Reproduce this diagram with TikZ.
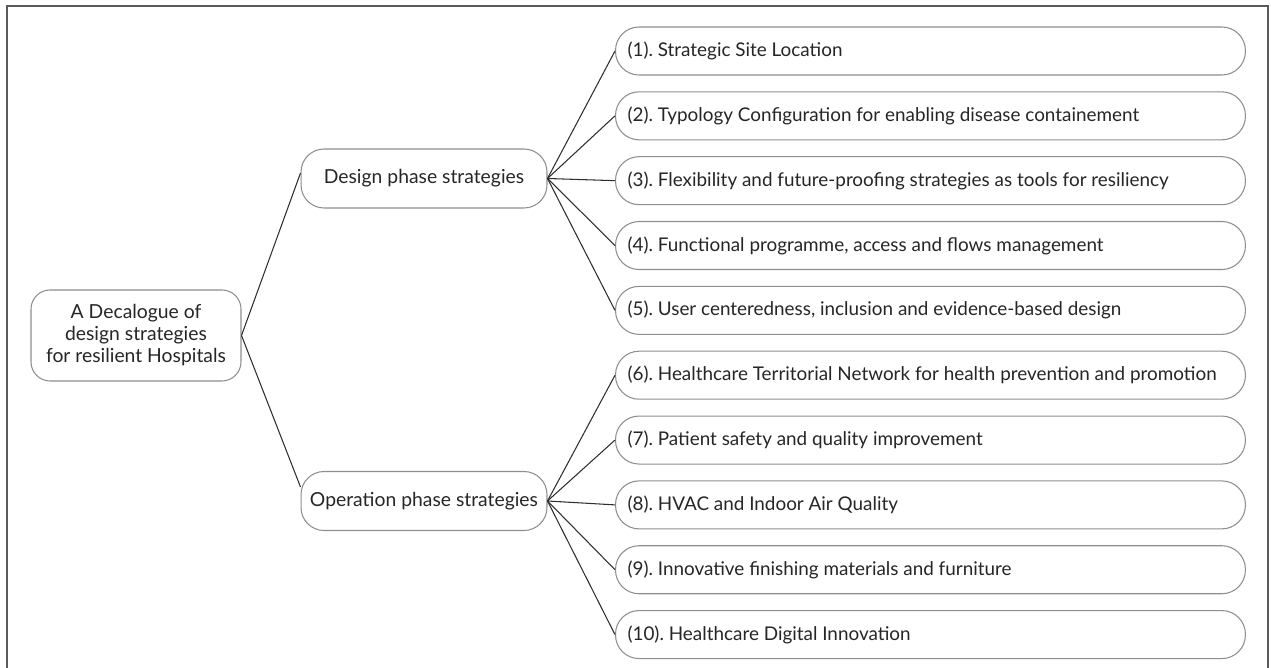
\documentclass[tikz,border=0pt]{standalone}
\usepackage{fontspec}
\setmainfont{Lato}
\usepackage{xcolor}
\definecolor{framegray}{HTML}{5A5A5A}
\definecolor{boxgray}{HTML}{8E8E8E}
\definecolor{linedark}{HTML}{2E2E2E}
\definecolor{textdark}{HTML}{262626}
\usetikzlibrary{positioning, calc}
\frenchspacing
\newcommand{\stratitem}[1]{\makebox[12.12cm][l]{#1}}
\tikzset{
  rootbox/.style={
    draw=boxgray, fill=white,
    rounded corners=0.38cm,
    text=textdark, font=\fontsize{11}{12.5}\selectfont,
    inner sep=2pt, align=center,
    minimum width=4.2cm, minimum height=1.82cm,
    line width=0.6pt,
  },
  phasebox/.style={
    draw=boxgray, fill=white,
    rounded corners=0.46cm,
    text=textdark, font=\fontsize{11}{12.5}\selectfont,
    inner sep=2pt, align=center,
    minimum width=4.92cm, minimum height=1.18cm,
    line width=0.6pt,
  },
  leafbox/.style={
    draw=boxgray, fill=white,
    rounded corners=0.47cm,
    text=textdark, font=\fontsize{10.75}{12.5}\selectfont,
    inner xsep=0.24cm, inner ysep=0pt,
    minimum height=0.96cm,
    line width=0.6pt,
  },
  link/.style={linedark, line width=0.6pt},
}

\begin{document}
\begin{tikzpicture}[x=0.02cm, y=-0.02cm, node distance=3.16mm]

  \useasboundingbox (0,0) rectangle (1271,668);

  % Outer frame (bottom edge falls outside the page)
  \draw[framegray, line width=1.1pt] (7,680) -- (7,6) -- (1268,6) -- (1268,680);

  % Root and phases
  \node[rootbox] (root) at (136,335.5)
    {A Decalogue of\\design strategies\\for resilient Hospitals};

  \node[phasebox] (design) at (424,178.5) {Design phase strategies};
  \node[phasebox] (operation) at (424,501) {Operation phase strategies};

  % Strategies
  \node[leafbox, anchor=west] (s1) at (615,51)
    {\stratitem{(1). Strategic Site Location}};
  \node[leafbox, below=of s1] (s2)
    {\stratitem{(2). Typology Configuration for enabling disease containement}};
  \node[leafbox, below=of s2] (s3)
    {\stratitem{(3). Flexibility and future-proofing strategies as tools for resiliency}};
  \node[leafbox, below=of s3] (s4)
    {\stratitem{(4). Functional programme, access and flows management}};
  \node[leafbox, below=of s4] (s5)
    {\stratitem{(5). User centeredness, inclusion and evidence-based design}};
  \node[leafbox, below=of s5] (s6)
    {\stratitem{(6). Healthcare Territorial Network for health prevention and promotion}};
  \node[leafbox, below=of s6] (s7)
    {\stratitem{(7). Patient safety and quality improvement}};
  \node[leafbox, below=of s7] (s8)
    {\stratitem{(8). HVAC and Indoor Air Quality}};
  \node[leafbox, below=of s8] (s9)
    {\stratitem{(9). Innovative finishing materials and furniture}};
  \node[leafbox, below=of s9] (s10)
    {\stratitem{(10). Healthcare Digital Innovation}};

  % Root -> phases
  \draw[link] (root.east) -- ([yshift=0.11cm]design.west);
  \draw[link] (root.east) -- ([yshift=0.28cm]operation.west);

  % Design phase -> (1)-(5)
  \draw[link] (design.east) -- (s1.west);
  \draw[link] (design.east) -- (s2.west);
  \draw[link] (design.east) -- (s3.west);
  \draw[link] (design.east) -- (s4.west);
  \draw[link] (design.east) -- (s5.west);

  % Operation phase -> (6)-(10)
  \draw[link] (operation.east) -- (s6.west);
  \draw[link] (operation.east) -- (s7.west);
  \draw[link] (operation.east) -- (s8.west);
  \draw[link] (operation.east) -- (s9.west);
  \draw[link] (operation.east) -- (s10.west);

\end{tikzpicture}
\end{document}
